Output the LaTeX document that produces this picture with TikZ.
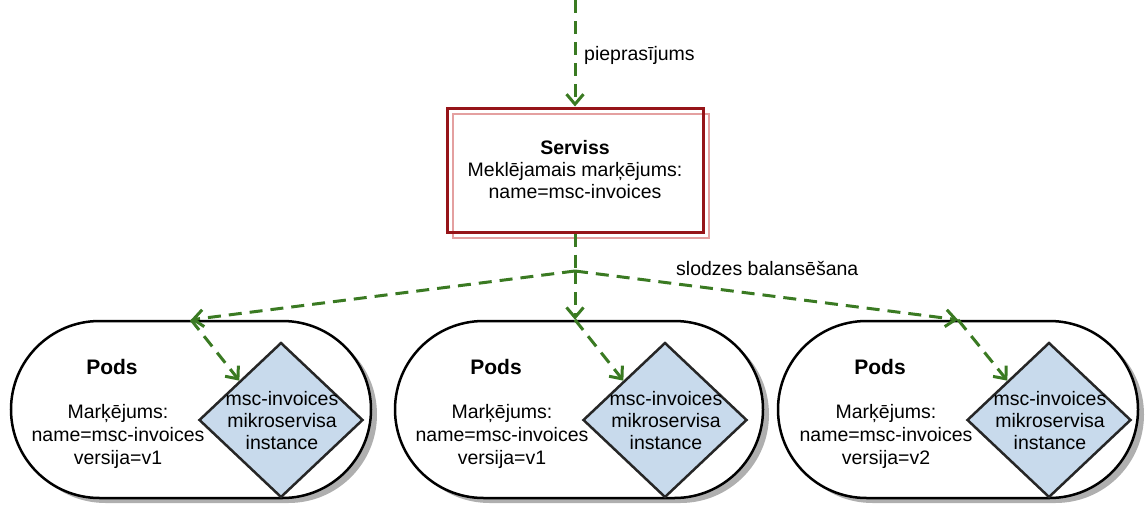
\documentclass[tikz,border=0pt]{standalone}
\usepackage{fontspec}
\setmainfont{Liberation Sans}
\usetikzlibrary{arrows.meta,shapes.misc,shapes.geometric,shadows,calc}
\definecolor{flowgreen}{RGB}{58,122,34}
\definecolor{svcred}{RGB}{150,20,24}
\definecolor{svcpink}{RGB}{228,160,160}
\definecolor{podblue}{RGB}{200,218,236}
\definecolor{podshade}{RGB}{175,175,175}
\begin{document}
\begin{tikzpicture}[x=1pt,y=-1pt,
  font=\fontsize{19.5}{22}\selectfont,
  flowline/.style={draw=flowgreen, line width=3pt, dash pattern=on 13pt off 8pt},
  flow/.style={flowline, -{Straight Barb[length=10pt,width=17pt]}},
  service/.style={rectangle, draw=svcred, line width=3pt, minimum width=256pt,
    minimum height=124pt, align=center, inner sep=0pt},
  podbox/.style={rounded rectangle, draw=black, line width=2.5pt, fill=white,
    minimum height=177pt, inner sep=0pt,
    drop shadow={shadow xshift=6pt, shadow yshift=-5pt, fill=podshade, opacity=1}},
  instance/.style={diamond, draw=black!85, line width=2.5pt, fill=podblue,
    minimum width=164pt, minimum height=155pt, inner sep=0pt},
  podtext/.style={align=center, font=\fontsize{19.5}{23}\selectfont},
  textlbl/.style={inner sep=0pt, anchor=west}]
\useasboundingbox (0,0) rectangle (1146,506);

% service with its offset outline
\draw[svcpink, line width=2.5pt] (453,114) rectangle (709,238);
\node[service] (srv) at (575,170)
  {\textbf{Serviss}\\Meklējamais marķējums:\\name=msc-invoices};

% pods
\node[podbox, minimum width=360pt] (pod1) at (191,409.5) {};
\node[podbox, minimum width=368pt] (pod2) at (579,409.5) {};
\node[podbox, minimum width=360pt] (pod3) at (958,409.5) {};

\foreach \i/\dx/\ver in {1/0/v1, 2/384/v1, 3/768/v2} {
  \node[font=\fontsize{21}{22}\selectfont\bfseries] (title\i) at (112+\dx,367) {Pods};
  \node[podtext] (lbl\i) at (118+\dx,436) {Marķējums:\\name=msc-invoices\\versija=\ver};
  \node[instance] (d\i) at (281+\dx,420) {};
  \node[align=center, inner sep=0pt] (dt\i) at (282+\dx,421)
    {msc-invoices\\mikroservisa\\instance};
}

% request flow
\coordinate (src) at (575,0);
\coordinate (j) at (575,271);
\draw[flow] (src) -- (srv.north);
\node[textlbl] (req) at (584,55) {pieprasījums};
\draw[flowline] (srv.south) -- (j);
\draw[flow] (j) -- (pod1.north);
\draw[flow] (j) -- (j |- pod2.north);
\draw[flow] (j) -- (pod3.north);
\node[textlbl] (lb) at (676,268) {slodzes balansēšana};

\draw[flow] (pod1.north) -- (d1.north west);
\draw[flow] (j |- pod2.north) -- (d2.north west);
\draw[flow] (pod3.north) -- (d3.north west);
\end{tikzpicture}
\end{document}
